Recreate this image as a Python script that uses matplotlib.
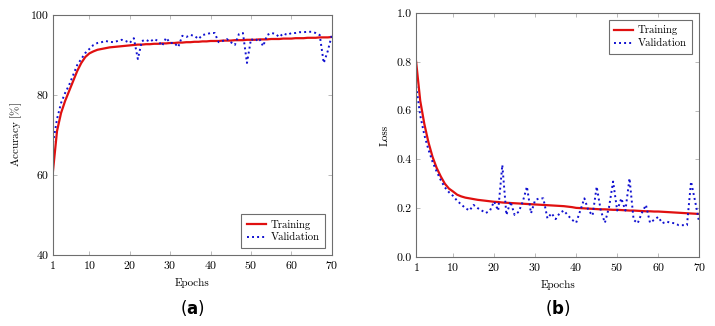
import numpy as np
import matplotlib
matplotlib.use('Agg')
from matplotlib import pyplot as plt

# DATA
epochs = np.arange(1, 71)

acc_train = [61.0, 71.0, 75.5, 78.5, 81.0, 83.5, 86.0, 88.0, 89.5, 90.4,
             90.9, 91.3, 91.5, 91.7, 91.9, 92.0, 92.1, 92.2, 92.3, 92.4,
             92.5, 92.6, 92.6, 92.7, 92.7, 92.8, 92.8, 92.9, 92.9, 93.0,
             93.0, 93.1, 93.1, 93.2, 93.2, 93.3, 93.3, 93.4, 93.4, 93.5,
             93.5, 93.5, 93.6, 93.6, 93.6, 93.7, 93.7, 93.7, 93.8, 93.8,
             93.8, 93.9, 93.9, 93.9, 94.0, 94.0, 94.0, 94.1, 94.1, 94.1,
             94.2, 94.2, 94.2, 94.3, 94.3, 94.3, 94.4, 94.4, 94.4, 94.5]

acc_val = [68.0, 74.0, 78.0, 80.5, 82.5, 85.0, 87.5, 89.0, 90.5, 91.5,
           92.5, 93.0, 93.2, 93.5, 93.3, 93.2, 93.5, 93.8, 93.5, 93.0,
           94.2, 89.0, 93.5, 93.8, 93.3, 94.0, 93.5, 92.3, 94.3, 93.0,
           93.0, 92.0, 94.8, 94.5, 95.0, 94.8, 94.0, 95.0, 95.2, 95.5,
           95.5, 93.2, 93.5, 94.0, 93.2, 92.5, 95.2, 95.5, 88.0, 94.0,
           93.5, 94.2, 92.2, 95.0, 95.5, 95.3, 94.5, 95.4, 95.0, 95.5,
           95.5, 95.7, 95.7, 95.8, 95.8, 95.5, 95.0, 88.0, 91.0, 95.0]

loss_train = [0.800, 0.640, 0.545, 0.470, 0.410, 0.365, 0.330, 0.300, 0.280, 0.268,
              0.255, 0.248, 0.243, 0.240, 0.237, 0.234, 0.232, 0.230, 0.228, 0.226,
              0.225, 0.223, 0.222, 0.221, 0.220, 0.219, 0.218, 0.217, 0.216, 0.215,
              0.214, 0.213, 0.212, 0.211, 0.210, 0.209, 0.208, 0.206, 0.204, 0.201,
              0.200, 0.199, 0.198, 0.197, 0.196, 0.195, 0.195, 0.194, 0.193, 0.193,
              0.192, 0.191, 0.190, 0.190, 0.189, 0.188, 0.187, 0.187, 0.186, 0.186,
              0.185, 0.184, 0.183, 0.182, 0.181, 0.180, 0.179, 0.178, 0.177, 0.176]

loss_val = [0.700, 0.580, 0.500, 0.440, 0.390, 0.350, 0.315, 0.285, 0.265, 0.250,
            0.230, 0.215, 0.200, 0.190, 0.213, 0.200, 0.190, 0.180, 0.190, 0.227,
            0.190, 0.377, 0.172, 0.227, 0.172, 0.185, 0.227, 0.288, 0.179, 0.233,
            0.240, 0.240, 0.158, 0.179, 0.155, 0.180, 0.190, 0.170, 0.152, 0.140,
            0.190, 0.240, 0.190, 0.170, 0.288, 0.190, 0.140, 0.203, 0.309, 0.190,
            0.240, 0.190, 0.322, 0.152, 0.138, 0.180, 0.213, 0.140, 0.152, 0.164,
            0.138, 0.145, 0.140, 0.138, 0.130, 0.130, 0.130, 0.309, 0.227, 0.140]

xticks = [1, 10, 20, 30, 40, 50, 60, 70]
acc_ticks = [40, 60, 80, 100]
loss_ticks = [0.0, 0.2, 0.4, 0.6, 0.8, 1.0]
# END DATA

plt.rcParams['font.family'] = 'cmr10'
plt.rcParams['mathtext.fontset'] = 'cm'
plt.rcParams['axes.formatter.use_mathtext'] = True
plt.rcParams['font.size'] = 8.5

GRAY = '#6e6e6e'


def style_axes(ax):
    for sp in ax.spines.values():
        sp.set_color(GRAY)
        sp.set_linewidth(0.8)
    ax.tick_params(direction='in', top=True, right=True, length=3,
                   width=0.6, color='#b0b0b0', labelsize=8.5, pad=3)
    ax.set_xlim(1, 70)
    ax.set_xticks(xticks)
    ax.set_xlabel('Epochs', fontsize=8, labelpad=5)


def do_panel(ax, ytrain, yval, ylim, yticks, ylabel, loc, fmt):
    ax.plot(epochs, ytrain, '-', color='#e01010', lw=1.6, label='Training')
    ax.plot(epochs, yval, color='#1010d0', lw=1.4, ls=(0, (1, 1.6)),
            label='Validation')
    style_axes(ax)
    ax.set_ylim(ylim)
    ax.set_yticks(yticks)
    ax.set_yticklabels([fmt % v for v in yticks])
    ax.set_ylabel(ylabel, fontsize=8, labelpad=5)
    leg = ax.legend(loc=loc, fontsize=7.8, fancybox=False, framealpha=1,
                    handlelength=1.8, borderpad=0.5, labelspacing=0.3,
                    handletextpad=0.4, borderaxespad=0.65)
    leg.get_frame().set_edgecolor(GRAY)
    leg.get_frame().set_linewidth(0.8)


fig = plt.figure(figsize=(7.15, 3.26), dpi=100)

ax1 = fig.add_axes([0.0741, 0.218, 0.390, 0.736])
do_panel(ax1, acc_train, acc_val, (40, 100), acc_ticks, r'Accuracy [$\%$]',
         'lower right', '%d')

ax2 = fig.add_axes([0.582, 0.212, 0.396, 0.748])
do_panel(ax2, loss_train, loss_val, (0.0, 1.0), loss_ticks, 'Loss',
         'upper right', '%.1f')

for xc, lab in [(0.2692, 'a'), (0.780, 'b')]:
    fig.text(xc, 0.055, r'($\mathbf{%s}$)' % lab, ha='center', va='center',
             fontsize=12, family='DejaVu Sans', math_fontfamily='dejavusans')

fig.savefig('out.png', dpi=100)
